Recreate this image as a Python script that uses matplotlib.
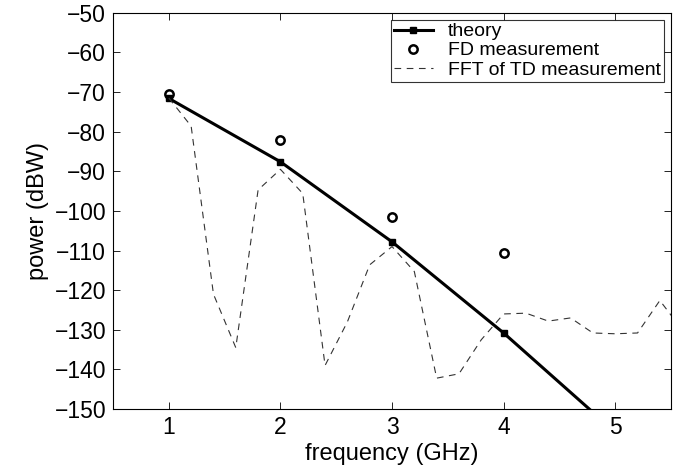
import numpy as np
import matplotlib
matplotlib.use("Agg")
import matplotlib.pyplot as plt

plt.rcParams['font.family'] = ['Liberation Sans', 'DejaVu Sans']

# theory (squares only visible at 1..4, line runs off the bottom)
f_theory = [1, 2, 3, 4, 5]
p_theory = [-71.6, -87.6, -107.8, -130.8, -155.8]

# FD measurement
f_fd = [1, 2, 3, 4]
p_fd = [-70.5, -82.0, -101.6, -110.6]

# FFT of TD measurement
f_fft = [1.0, 1.2, 1.4, 1.6, 1.8, 2.0, 2.2, 2.4, 2.6, 2.8, 3.0, 3.2, 3.4, 3.6,
         3.8, 4.0, 4.2, 4.4, 4.6, 4.8, 5.0, 5.2, 5.4, 5.6]
p_fft = [-71.5, -78.6, -121.0, -134.5, -94.7, -89.5, -95.6, -139.0, -128.0, -113.6,
         -109.0, -115.3, -142.2, -141.1, -132.5, -126.0, -125.8, -127.8, -127.0,
         -130.8, -131.0, -130.8, -122.6, -130.0]

fig = plt.figure(figsize=(6.78, 4.74), dpi=100)
ax = fig.add_axes([0.1667, 0.137, 0.823, 0.836])

ax.plot(f_theory, p_theory, '-s', color='black', lw=2.2, markersize=5,
        markerfacecolor='black', markeredgecolor='black', label='theory')
ax.plot(f_fd, p_fd, 'o', color='black', markersize=6, markerfacecolor='none',
        markeredgewidth=1.8, label='FD measurement')
ax.plot(f_fft, p_fft, '--', color='#333333', lw=0.8, dashes=(6, 5),
        label='FFT of TD measurement')

ax.set_xlim(0.5, 5.5)
ax.set_ylim(-150, -50)
ax.set_xticks([1, 2, 3, 4, 5])
ax.set_yticks(np.arange(-150, -49, 10))
ax.tick_params(direction='in', top=True, right=True, labelsize=16.5, length=5,
               width=0.6, pad=5)
for s in ax.spines.values():
    s.set_linewidth(0.8)

ax.set_xlabel('frequency (GHz)', fontsize=17, labelpad=3)
ax.set_ylabel('power (dBW)', fontsize=17, labelpad=4)

leg = ax.legend(loc='upper right', fontsize=14, frameon=True, fancybox=False,
                borderpad=0.15, labelspacing=0.08, handlelength=2.0,
                handletextpad=0.8, borderaxespad=0.36)
leg.get_frame().set_edgecolor('black')
leg.get_frame().set_linewidth(0.8)

fig.savefig('out.png', dpi=100)
